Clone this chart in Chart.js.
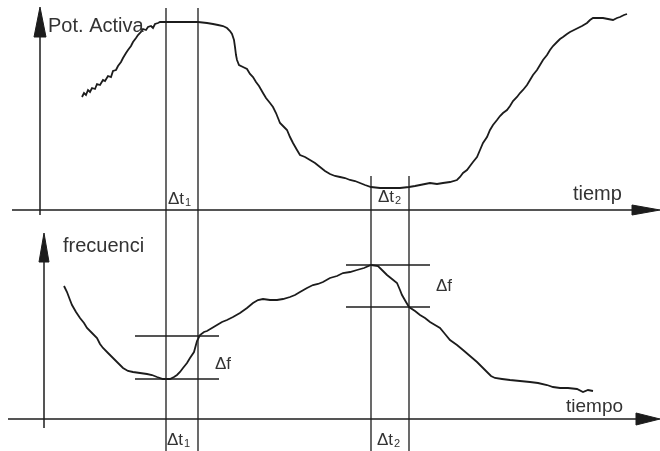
<!DOCTYPE html>
<html>
<head>
<meta charset="utf-8">
<script src="https://cdn.jsdelivr.net/npm/chart.js@4/dist/chart.umd.min.js"></script>
<style>
  html, body { margin: 0; padding: 0; background: #fff; }
  canvas { display: block; }
</style>
</head>
<body>
<canvas id="diagram" width="660" height="451"></canvas>
<script>
// time axis (same for both panels)
const timePot = [82,84,86,88,90,92,95,97,100,103,105,108,111,113,116,118,121,123,126,128,
  131,133,136,138,141,143,146,148,151,153,155,158,160,180,198,207,213,218,223,227,
  230,232,234,235,236,237,239,243,247,250,253,256,259,263,266,270,273,276,278,280,
  284,287,290,293,297,300,305,310,315,320,325,330,335,340,345,350,355,360,365,371,
  380,390,400,409,415,420,425,430,437,443,450,457,460,463,467,470,473,477,480,483,
  487,490,493,497,500,503,507,510,513,517,520,523,527,530,533,537,540,543,547,550,
  553,557,560,563,567,570,574,578,582,587,590,593,598,603,608,613,617,620,624,627];
// potencia activa (height above the upper time axis)
const potActiva = [113,117,115,120,118,122,121,126,125,130,129,134,133,139,140,144,148,152,157,160,
  164,168,172,175,178,181,180,183,184,182,186,187,188,188,188,187,186,185,184,182,
  179,176,170,163,155,150,145,143,141,136,133,128,124,117,112,107,103,97,92,87,
  83,80,73,67,60,55,53,50,47,43,39,36,34,33,32,30,29,27,25,23,
  22,22,22,23,24,25,26,27,26,27,28,30,33,37,40,44,48,53,60,67,
  73,80,85,90,94,97,100,104,109,113,117,120,125,130,135,140,145,150,155,160,
  164,168,171,173,176,178,180,182,184,187,190,192,192,192,191,190,192,193,195,196];

const timeFreq = [64,65,67,70,72,76,80,84,87,92,97,100,103,108,113,118,123,128,133,140,
  147,152,157,163,170,174,177,180,183,187,190,194,197,200,204,207,212,217,222,227,
  233,240,247,253,258,263,270,277,283,290,295,300,307,313,318,323,330,337,343,350,
  357,364,371,378,383,387,392,397,400,402,406,409,415,420,425,430,435,440,445,450,
  457,463,470,477,482,487,491,495,502,510,520,530,538,547,553,560,568,577,583,588,593];
// frecuencia (height above the lower time axis)
const frecuencia = [133,131,127,119,114,107,101,96,91,86,81,75,71,66,61,56,51,48,47,46,
  45,44,42,40,40,42,44,47,51,56,61,67,78,84,87,88,91,94,97,99,
  102,106,111,116,119,120,119,119,120,122,124,127,131,134,135,137,141,143,146,147,
  149,151,154,153,148,144,140,136,129,124,117,112,108,104,101,97,94,91,85,79,
  74,69,63,57,52,47,43,41,40,39,38,37,36,34,32,31,31,30,27,29,28];

// intervals and frequency deviations
const dt1 = [166, 198];
const dt2 = [371, 409];
const df1 = [83, 40];
const df2 = [154, 112];

const ink = '#1c1c1c';
const textInk = '#333';

function zip(ts, vs) { return ts.map((t, i) => ({ x: t, y: vs[i] })); }

function seg(pts, axis, width) {
  return {
    data: pts.map(p => ({ x: p[0], y: p[1] })),
    yAxisID: axis,
    showLine: true,
    borderColor: ink,
    borderWidth: width,
    pointRadius: 0,
    fill: false
  };
}

function arrow(pts, axis) {
  return {
    data: pts.map(p => ({ x: p[0], y: p[1] })),
    yAxisID: axis,
    showLine: true,
    borderColor: ink,
    backgroundColor: ink,
    borderWidth: 1,
    pointRadius: 0,
    fill: 'shape'
  };
}

let datasets = [
  // curves
  { data: zip(timePot, potActiva), yAxisID: 'yP', showLine: true, borderColor: ink, borderWidth: 1.8, pointRadius: 0, fill: false },
  { data: zip(timeFreq, frecuencia), yAxisID: 'yF', showLine: true, borderColor: ink, borderWidth: 1.8, pointRadius: 0, fill: false },
  // upper axes
  seg([[40, -5], [40, 175]], 'yP', 1.5),
  seg([[12, 0], [636, 0]], 'yP', 1.5),
  arrow([[34, 173], [40, 203], [46, 173], [34, 173]], 'yP'),
  arrow([[632, 5], [660, 0], [632, -5], [632, 5]], 'yP'),
  // lower axes
  seg([[44, -9], [44, 158]], 'yF', 1.5),
  seg([[8, 0], [640, 0]], 'yF', 1.5),
  arrow([[39, 157], [44, 186], [49, 157], [39, 157]], 'yF'),
  arrow([[636, 6], [660, 0], [636, -6], [636, 6]], 'yF'),
];

// vertical interval lines through both panels
dt1.forEach(t => datasets.push(seg([[t, 202], [t, -241]], 'yP', 1.3)));
dt2.forEach(t => datasets.push(seg([[t, 34], [t, -241]], 'yP', 1.3)));
// delta f lines
df1.forEach(f => datasets.push(seg([[135, f], [219, f]], 'yF', 1.5)));
df2.forEach(f => datasets.push(seg([[346, f], [430, f]], 'yF', 1.3)));

const labels = [
  { text: 'Pot. Activa', t: 48, v: 178, axis: 'yP', size: 20 },
  { text: 'tiemp', t: 573, v: 10, axis: 'yP', size: 20 },
  { text: 'Δt', sub: '1', t: 168, v: 6, axis: 'yP', size: 17 },
  { text: 'Δt', sub: '2', t: 378, v: 8, axis: 'yP', size: 17 },
  { text: 'frecuenci', t: 63, v: 167, axis: 'yF', size: 20 },
  { text: 'tiempo', t: 566, v: 7, axis: 'yF', size: 19 },
  { text: 'Δf', t: 215, v: 50, axis: 'yF', size: 17 },
  { text: 'Δf', t: 436, v: 128, axis: 'yF', size: 17 },
  { text: 'Δt', sub: '1', t: 167, v: -26, axis: 'yF', size: 17 },
  { text: 'Δt', sub: '2', t: 377, v: -26, axis: 'yF', size: 17 }
];

const textPlugin = {
  id: 'diagramText',
  afterDatasetsDraw(chart) {
    const ctx = chart.ctx;
    ctx.save();
    ctx.fillStyle = textInk;
    ctx.textBaseline = 'alphabetic';
    ctx.textAlign = 'left';
    labels.forEach(l => {
      const x = chart.scales.x.getPixelForValue(l.t);
      const y = chart.scales[l.axis].getPixelForValue(l.v);
      ctx.font = l.size + 'px "Liberation Sans", Arial, sans-serif';
      ctx.fillText(l.text, x, y);
      if (l.sub) {
        const w = ctx.measureText(l.text).width;
        ctx.font = Math.round(l.size * 0.65) + 'px "Liberation Sans", Arial, sans-serif';
        ctx.fillText(l.sub, x + w + 1, y + 2);
      }
    });
    ctx.restore();
  }
};

new Chart(document.getElementById('diagram'), {
  type: 'scatter',
  data: { datasets: datasets },
  options: {
    responsive: false,
    animation: false,
    layout: { padding: 0 },
    plugins: { legend: { display: false }, tooltip: { enabled: false } },
    elements: { line: { tension: 0 } },
    scales: {
      x: { type: 'linear', min: 0, max: 660, display: false },
      yP: { type: 'linear', min: -241, max: 210, display: false },
      yF: { type: 'linear', min: -32, max: 419, display: false }
    }
  },
  plugins: [textPlugin]
});
</script>
</body>
</html>
